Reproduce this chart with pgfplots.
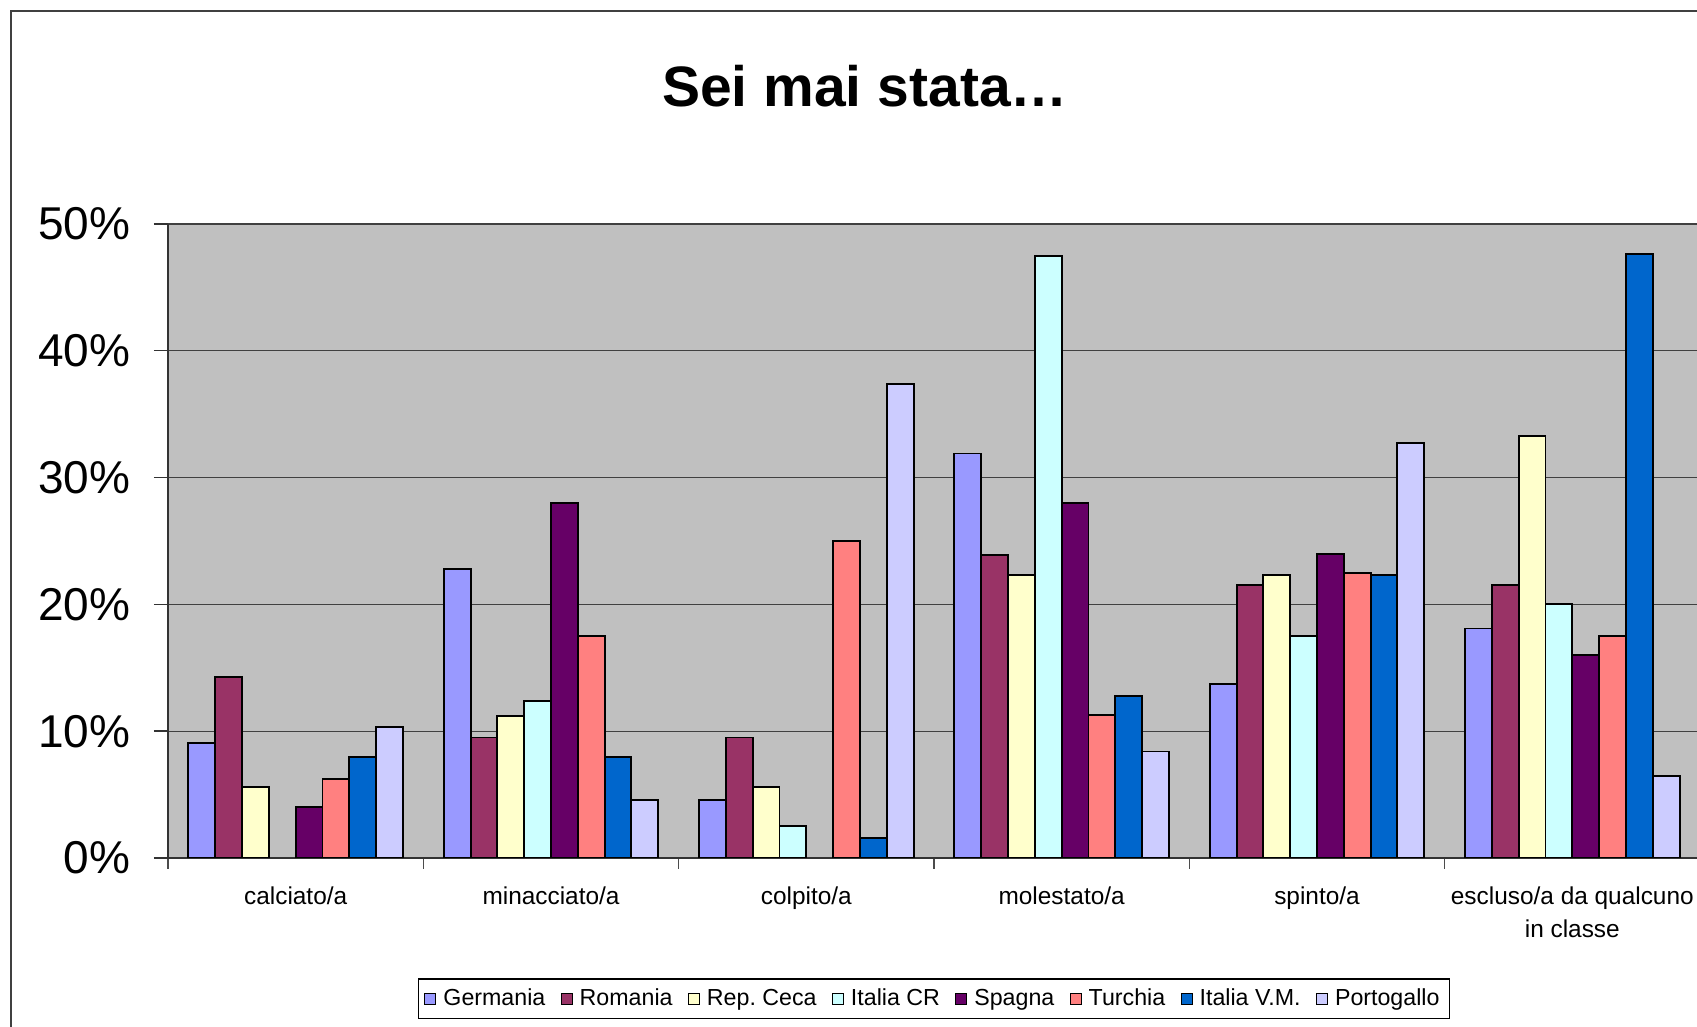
\documentclass[border=0pt]{standalone}
\usepackage{fontspec}
\setmainfont{Liberation Sans}
\usepackage{pgfplots}
\pgfplotsset{compat=1.18}
\definecolor{cGer}{HTML}{9999FF}
\definecolor{cRom}{HTML}{993366}
\definecolor{cCec}{HTML}{FFFFCC}
\definecolor{cICR}{HTML}{CCFFFF}
\definecolor{cSpa}{HTML}{660066}
\definecolor{cTur}{HTML}{FF8080}
\definecolor{cIVM}{HTML}{0066CC}
\definecolor{cPor}{HTML}{CCCCFF}
\definecolor{plotbg}{HTML}{C0C0C0}
\frenchspacing
\begin{document}
\begin{tikzpicture}
\useasboundingbox (0,0) rectangle (848.5pt,513.5pt);
\fill[white] (0,0) rectangle (848.5pt,513.5pt);
\draw[line width=0.9pt, color=black!75] (5.5pt,-10pt) -- (5.5pt,508pt) -- (870pt,508pt);
\node[anchor=base, font=\fontsize{28.5}{34}\selectfont\bfseries] at (432.5pt,460pt) {Sei mai stata…};
\begin{axis}[
  at={(84pt,84.5pt)}, anchor=south west,
  scale only axis, width=766pt, height=317pt,
  xmin=-0.5, xmax=5.5, ymin=0, ymax=50,
  axis background/.style={fill=plotbg},
  axis x line=bottom, axis y line=left,
  axis line style={-, line width=0.8pt, color=black!80},
  ytick={0,10,20,30,40,50},
  yticklabel={\pgfmathprintnumber{\tick}\%},
  /pgf/number format/assume math mode=true,
  yticklabel style={font=\fontsize{23}{23}\selectfont, xshift=-8.4pt},
  ymajorgrids, grid style={line width=0.6pt, color=black!75},
  tick align=outside,
  major tick length=7pt,
  tick style={line width=0.7pt, color=black!80},
  xtick={0,1,2,3,4,5},
  xticklabels={calciato/a, minacciato/a, colpito/a, molestato/a, spinto/a, {escluso/a da qualcuno\\in classe}},
  xticklabel style={font=\fontsize{12.2}{16.2}\selectfont, align=center, yshift=-4pt},
  x tick style={draw=none},
  minor xtick={-0.5,0.5,1.5,2.5,3.5,4.5,5.5},
  minor tick length=5.5pt,
  minor x tick style={draw=black!70, line width=0.7pt},
  ybar, bar width=0.105,
  every axis plot/.append style={draw=black, line width=0.95pt},
  legend columns=8,
  legend style={at={(0.5,-0.2224)}, anchor=center, draw=black, line width=0.6pt, fill=white,
    font=\fontsize{11.6}{13}\selectfont, inner xsep=3pt, inner ysep=3pt,
    /tikz/every even column/.append style={column sep=5.7pt},
    /tikz/every odd column/.append style={column sep=1.5pt}},
  legend image code/.code={\draw[#1, line width=0.5pt] (0pt,-2.6pt) rectangle (5.5pt,2.9pt);},
]
\addplot[fill=cGer, bar shift=-0.3675] coordinates {(0,9.1) (1,22.8) (2,4.6) (3,31.9) (4,13.7) (5,18.1)};
\addplot[fill=cRom, bar shift=-0.2625] coordinates {(0,14.3) (1,9.5) (2,9.5) (3,23.9) (4,21.5) (5,21.5)};
\addplot[fill=cCec, bar shift=-0.1575] coordinates {(0,5.6) (1,11.2) (2,5.6) (3,22.3) (4,22.3) (5,33.3)};
\addplot[fill=cICR, bar shift=-0.0525] coordinates {(1,12.4) (2,2.5) (3,47.5) (4,17.5) (5,20.0)};
\addplot[fill=cSpa, bar shift=0.0525] coordinates {(0,4.0) (1,28.0) (3,28.0) (4,24.0) (5,16.0)};
\addplot[fill=cTur, bar shift=0.1575] coordinates {(0,6.2) (1,17.5) (2,25.0) (3,11.3) (4,22.5) (5,17.5)};
\addplot[fill=cIVM, bar shift=0.2625] coordinates {(0,8.0) (1,8.0) (2,1.6) (3,12.8) (4,22.3) (5,47.6)};
\addplot[fill=cPor, bar shift=0.3675] coordinates {(0,10.3) (1,4.6) (2,37.4) (3,8.4) (4,32.7) (5,6.5)};
\legend{Germania, Romania, Rep. Ceca, Italia CR, Spagna, Turchia, Italia V.M., Portogallo}
\end{axis}
\end{tikzpicture}
\end{document}
